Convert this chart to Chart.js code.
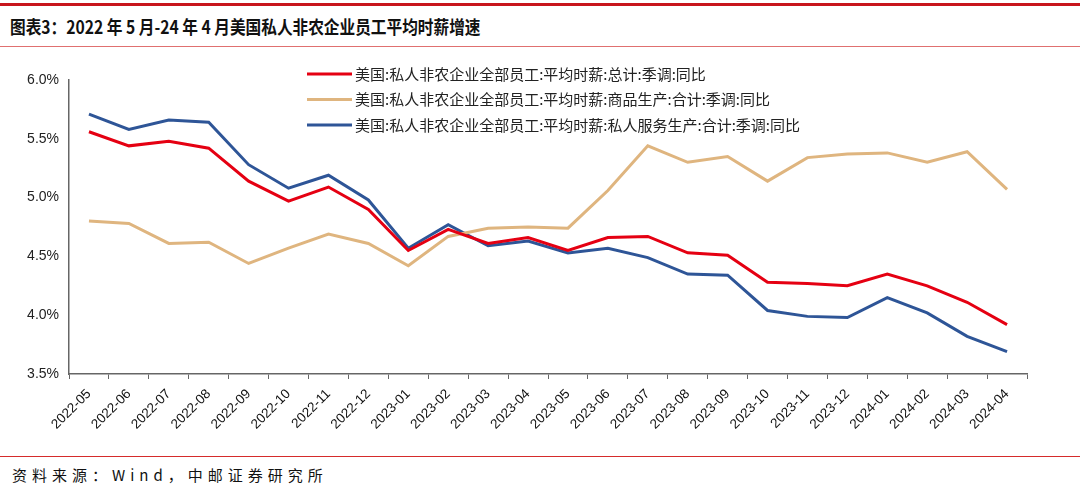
<!DOCTYPE html>
<html>
<head>
  <meta charset="UTF-8">
  <title>美国私人非农企业员工平均时薪增速</title>
  <script src="https://cdn.jsdelivr.net/npm/chart.js"></script>
  <style>
    body {
      margin: 0;
      padding: 0;
      background: #fff;
      width: 1080px;
      height: 493px;
      position: relative;
      overflow: hidden;
      font-family: "Noto Sans CJK SC", sans-serif;
    }
    .top-line {
      position: absolute; left: 0; top: 3px; width: 1080px; height: 3px; background: #c8161d;
    }
    .title {
      position: absolute; left: 10px; top: 13px;
      font-size: 18px; font-weight: bold; color: #111; white-space: nowrap;
      transform: scaleX(0.87); transform-origin: left top;
    }
    .title-line {
      position: absolute; left: 0; top: 46px; width: 1080px; height: 1px; background: #e07070;
    }
    .bottom-line {
      position: absolute; left: 0; top: 456px; width: 1080px; height: 1px; background: #d52b2b;
    }
    .source {
      position: absolute; left: 12px; top: 464px;
      font-size: 15px; color: #111; letter-spacing: 5px;
    }
    #chart {
      position: absolute; left: 0; top: 0;
    }
  </style>
</head>
<body>
<div class="top-line"></div>
<div class="title">图表3：2022 年 5 月-24 年 4 月美国私人非农企业员工平均时薪增速</div>
<div class="title-line"></div>
<canvas id="chart" width="1080" height="452"></canvas>
<div class="bottom-line"></div>
<div class="source">资料来源：Wind，中邮证券研究所</div>

<script>
  // 月份
  const months = [
    '2022-05', '2022-06', '2022-07', '2022-08', '2022-09', '2022-10', '2022-11', '2022-12',
    '2023-01', '2023-02', '2023-03', '2023-04', '2023-05', '2023-06', '2023-07', '2023-08',
    '2023-09', '2023-10', '2023-11', '2023-12', '2024-01', '2024-02', '2024-03', '2024-04'
  ];

  // 总计
  const totalYoy = [5.56, 5.44, 5.48, 5.42, 5.14, 4.97, 5.09, 4.90, 4.55, 4.73, 4.61, 4.66,
                    4.55, 4.66, 4.67, 4.53, 4.51, 4.28, 4.27, 4.25, 4.35, 4.25, 4.11, 3.92];
  // 商品生产
  const goodsYoy = [4.80, 4.78, 4.61, 4.62, 4.44, 4.57, 4.69, 4.61, 4.42, 4.67, 4.74, 4.75,
                    4.74, 5.06, 5.44, 5.30, 5.35, 5.14, 5.34, 5.37, 5.38, 5.30, 5.39, 5.07];
  // 私人服务生产
  const serviceYoy = [5.71, 5.58, 5.66, 5.64, 5.28, 5.08, 5.19, 4.98, 4.57, 4.77, 4.59, 4.63,
                      4.53, 4.57, 4.49, 4.35, 4.34, 4.04, 3.99, 3.98, 4.15, 4.02, 3.82, 3.69];

  const seriesNames = [
    '美国:私人非农企业全部员工:平均时薪:总计:季调:同比',
    '美国:私人非农企业全部员工:平均时薪:商品生产:合计:季调:同比',
    '美国:私人非农企业全部员工:平均时薪:私人服务生产:合计:季调:同比'
  ];

  const colors = ['#e50012', '#dfb57f', '#2e5597'];

  // 图例（自己画）
  const legendPlugin = {
    id: 'customLegend',
    afterDraw(chart) {
      const ctx = chart.ctx;
      ctx.save();
      chart.data.datasets.forEach((ds, i) => {
        const y = 74 + i * 25.5;
        ctx.strokeStyle = ds.borderColor;
        ctx.lineWidth = 3;
        ctx.beginPath();
        ctx.moveTo(307, y);
        ctx.lineTo(352, y);
        ctx.stroke();
        ctx.fillStyle = '#222';
        ctx.font = '15px "Noto Sans CJK SC", sans-serif';
        ctx.textBaseline = 'middle';
        ctx.fillText(ds.label, 355, y);
      });
      ctx.restore();
    }
  };

  const datasets = [totalYoy, goodsYoy, serviceYoy].map((data, i) => ({
    label: seriesNames[i],
    data: data,
    borderColor: colors[i],
    backgroundColor: colors[i],
    borderWidth: 3,
    pointRadius: 0,
    tension: 0
  }));

  new Chart(document.getElementById('chart').getContext('2d'), {
    type: 'line',
    data: { labels: months, datasets: datasets },
    options: {
      responsive: false,
      animation: false,
      layout: { padding: { top: 80, right: 53, left: 0, bottom: 0 } },
      plugins: {
        legend: { display: false },
        tooltip: { enabled: false }
      },
      scales: {
        x: {
          offset: true,
          grid: {
            offset: true,
            drawOnChartArea: false,
            drawTicks: true,
            tickLength: 5,
            color: '#666'
          },
          border: { display: true, color: '#666', width: 1.5 },
          ticks: {
            minRotation: 45,
            maxRotation: 45,
            autoSkip: false,
            color: '#111',
            padding: 7,
            font: { family: 'Arial, "Liberation Sans"', size: 13.5 }
          },
          afterFit(scale) { scale.height = 452 - 374; }
        },
        y: {
          min: 3.5,
          max: 6.0,
          grid: { drawOnChartArea: false, drawTicks: false },
          border: { display: true, color: '#666', width: 1.5 },
          ticks: {
            stepSize: 0.5,
            padding: 10,
            color: '#222',
            font: { family: 'Arial, "Liberation Sans"', size: 14 },
            callback: v => v.toFixed(1) + '%'
          },
          afterFit(scale) { scale.width = 69; }
        }
      }
    },
    plugins: [legendPlugin]
  });
</script>
</body>
</html>
